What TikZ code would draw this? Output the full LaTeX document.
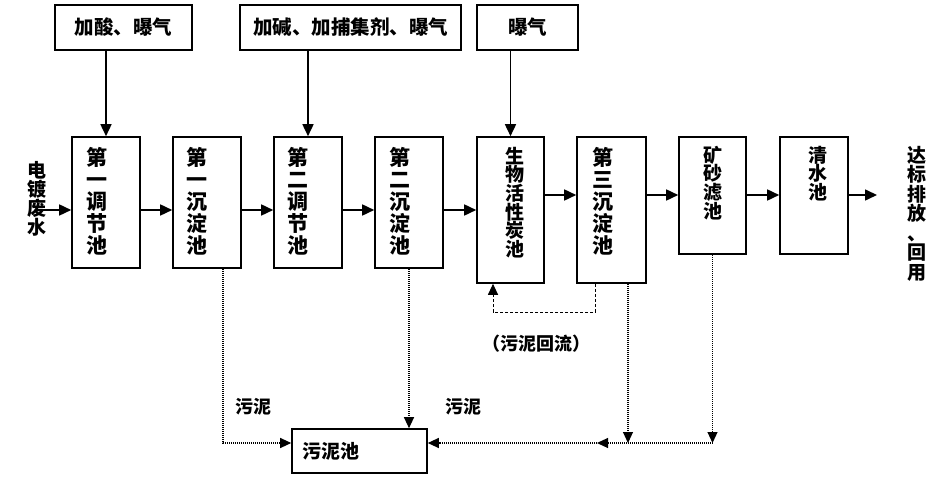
\documentclass[tikz,border=0pt]{standalone}
\usepackage{fontspec}
\setmainfont{Noto Sans CJK SC}
\usetikzlibrary{arrows.meta}
% #1 box height, #2 box width, #3 top pad, #4 x shift, #5 font, #6 text
\newcommand\vtbox[6]{\parbox[c][#1][t]{#2}{\vspace*{#3}\centering\hspace*{#4}#5\parbox[t]{2em}{\centering\lineskiplimit=-100pt #6}\hspace*{-#4}}}
\newcommand\vstack[1]{\parbox[t]{2em}{\centering\lineskiplimit=-100pt #1}}
\newcommand\bigf{\fontsize{21}{22}\selectfont\bfseries}
\newcommand\smf{\fontsize{19}{18.6}\selectfont\bfseries}
\begin{document}
\begin{tikzpicture}[x=1pt,y=-1pt,
  box/.style={draw, line width=1.6pt, inner sep=0pt},
  topbox/.style={box, minimum height=45pt, font=\fontsize{19.5}{20}\selectfont\bfseries},
  arr/.style={line width=1.6pt, -{Triangle[length=12pt,width=11pt]}},
  dotl/.style={line width=1.1pt, dash pattern=on 1pt off 1pt},
  dotarr/.style={dotl, -{Triangle[length=11pt,width=10pt]}},
  dasharr/.style={line width=1pt, dash pattern=on 3.5pt off 1.5pt, -{Triangle[length=11pt,width=10pt]}},
  lbl/.style={inner sep=0pt, font=\fontsize{18}{18}\selectfont\bfseries}]
\useasboundingbox (0,0) rectangle (947,478);

% top boxes
\node[topbox, minimum width=137pt] (t1) at (123.5,27.5) {加酸、曝气};
\node[topbox, minimum width=221pt] (t2) at (350.5,27.5) {加碱、加捕集剂、曝气};
\node[topbox, minimum width=101pt] (t3) at (527.5,27.5) {曝气};

% main boxes
\node[box] (b1) at (106,202.5) {\vtbox{131pt}{68pt}{10pt}{-9pt}{\bigf}{第\\一\\调\\节\\池}};
\node[box] (b2) at (207,202.5) {\vtbox{131pt}{68pt}{10pt}{-10pt}{\bigf}{第\\一\\沉\\淀\\池}};
\node[box] (b3) at (308,202.5) {\vtbox{131pt}{68pt}{10pt}{-10pt}{\bigf}{第\\二\\调\\节\\池}};
\node[box] (b4) at (409,202.5) {\vtbox{131pt}{68pt}{10pt}{-9pt}{\bigf}{第\\二\\沉\\淀\\池}};
\node[box] (b5) at (510.5,210) {\vtbox{146pt}{67pt}{10pt}{4pt}{\smf}{生\\物\\活\\性\\炭\\池}};
\node[box] (b6) at (611.5,210) {\vtbox{146pt}{69pt}{10pt}{-9pt}{\bigf}{第\\三\\沉\\淀\\池}};
\node[box] (b7) at (712.5,195.5) {\vtbox{117pt}{67pt}{9pt}{0pt}{\smf}{矿\\砂\\滤\\池}};
\node[box] (b8) at (814,195.5) {\vtbox{117pt}{68pt}{9pt}{4pt}{\smf}{清\\水\\池}};

% sludge tank
\node[box, minimum width=135pt, minimum height=44pt, text width=115pt, inner xsep=10pt, align=left, font=\fontsize{19}{20}\selectfont\bfseries] (s) at (359.5,451) {污泥池};

% in / out texts
\node[inner sep=0pt, anchor=north] (src) at (37,161) {\fontsize{19}{19}\selectfont\bfseries\vstack{电\\镀\\废\\水}};
\node[inner sep=0pt, anchor=north] (dst) at (917,146) {\fontsize{19}{19.5}\selectfont\bfseries\vstack{达\\标\\排\\放\\、\\回\\用}};

% labels
\node[lbl] (l1) at (253,407) {污泥};
\node[lbl] (l2) at (463,407) {污泥};
\node[lbl] (l3) at (536,343.5) {（污泥回流）};

% dosing arrows
\draw[arr] (t1.south -| b1.north) -- (b1.north);
\draw[arr] (t2.south -| b3.north) -- (b3.north);
\draw[arr] (t3.south -| b5.north) -- (b5.north);

% main flow
\coordinate (inA) at (43,210);
\coordinate (rowB) at (877,195);
\draw[arr] (inA) -- (inA -| b1.west);
\draw[arr] (b1.east |- inA) -- (b2.west |- inA);
\draw[arr] (b2.east |- inA) -- (b3.west |- inA);
\draw[arr] (b3.east |- inA) -- (b4.west |- inA);
\draw[arr] (b4.east |- inA) -- (b5.west |- inA);
\draw[arr] (b5.east |- rowB) -- (b6.west |- rowB);
\draw[arr] (b6.east |- rowB) -- (b7.west |- rowB);
\draw[arr] (b7.east |- rowB) -- (b8.west |- rowB);
\draw[arr] (b8.east |- rowB) -- (rowB);

% sludge lines
\coordinate (sl) at (0,443);
\coordinate (mid) at (597,443);
\draw[dotarr] (b2.south -| 223,0) |- (s.west |- sl);
\draw[dotarr] (b4.south) -- (b4.south |- s.north);
\draw[dotarr] (b6.south -| 628,0) -- (628,443);
\draw[dotarr] (b7.south) -- (b7.south |- sl);
\draw[dotarr] (b7.south |- sl) -- (mid);
\draw[dotarr] (mid) -- (s.east |- sl);

% sludge return
\draw[dasharr] (b6.south -| 595,0) -- (595,312) -| (b5.south -| 493,0);
\end{tikzpicture}
\end{document}
